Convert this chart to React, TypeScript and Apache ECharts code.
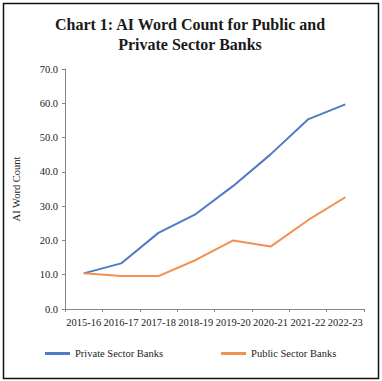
import React, { useEffect, useRef } from "react";
import * as echarts from "echarts";

const categories = ["2015-16", "2016-17", "2017-18", "2018-19", "2019-20", "2020-21", "2021-22", "2022-23"];
const privateBanks = [10.4, 13.3, 22.2, 27.7, 35.9, 45.1, 55.3, 59.7];
const publicBanks = [10.4, 9.6, 9.6, 14.3, 20.0, 18.2, 25.9, 32.6];
const yTicks = { min: 0, max: 70, interval: 10 };
const titleLines = ["Chart 1: AI Word Count for Public and", "Private Sector Banks"];
const seriesNames = ["Private Sector Banks", "Public Sector Banks"];

const SERIF = "'Liberation Serif', 'DejaVu Serif', serif";
const BLUE = "#5079C6";
const ORANGE = "#F2904F";

export default function App() {
  const ref = useRef<HTMLDivElement>(null);
  useEffect(() => {
    if (!ref.current) return;
    const chart = echarts.init(ref.current, null, { renderer: "svg" });
    chart.setOption({
      animation: false,
      backgroundColor: "#ffffff",
      graphic: [
        {
          type: "rect",
          shape: { x: 3.5, y: 3.5, width: 375, height: 375 },
          style: { fill: "none", stroke: "#111", lineWidth: 1.5 },
          silent: true,
        },
        {
          type: "text",
          x: 190,
          y: 24,
          style: {
            text: titleLines[0],
            font: `bold 16px ${SERIF}`,
            fill: "#1a1a1a",
            textAlign: "center",
            textVerticalAlign: "middle",
          },
        },
        {
          type: "text",
          x: 190,
          y: 44,
          style: {
            text: titleLines[1],
            font: `bold 16px ${SERIF}`,
            fill: "#1a1a1a",
            textAlign: "center",
            textVerticalAlign: "middle",
          },
        },
      ],
      grid: { left: 65, right: 18, top: 69, bottom: 72, containLabel: false },
      legend: {
        left: 40,
        top: 343,
        itemWidth: 25,
        itemHeight: 3,
        itemGap: 58,
        icon: "rect",
        textStyle: { fontFamily: SERIF, fontSize: 10.5, color: "#222" },
        data: seriesNames,
      },
      xAxis: {
        type: "category",
        data: categories,
        boundaryGap: true,
        axisLine: { lineStyle: { color: "#868686", width: 1 } },
        axisTick: { show: true, alignWithLabel: false, length: 3, lineStyle: { color: "#868686" } },
        axisLabel: { fontFamily: SERIF, fontSize: 10.5, color: "#222", margin: 8, interval: 0 },
      },
      yAxis: {
        type: "value",
        min: yTicks.min,
        max: yTicks.max,
        interval: yTicks.interval,
        name: "AI Word Count",
        nameLocation: "middle",
        nameGap: 43,
        nameTextStyle: { fontFamily: SERIF, fontSize: 10.5, color: "#222" },
        axisLine: { show: true, lineStyle: { color: "#868686", width: 1 } },
        axisTick: { show: true, length: 3, lineStyle: { color: "#868686" } },
        splitLine: { show: false },
        axisLabel: {
          fontFamily: SERIF,
          fontSize: 10.5,
          color: "#222",
          margin: 7,
          formatter: (v: number) => v.toFixed(1),
        },
      },
      series: [
        {
          name: seriesNames[0],
          type: "line",
          data: privateBanks,
          symbol: "none",
          lineStyle: { color: BLUE, width: 2 },
          itemStyle: { color: BLUE },
        },
        {
          name: seriesNames[1],
          type: "line",
          data: publicBanks,
          symbol: "none",
          lineStyle: { color: ORANGE, width: 2 },
          itemStyle: { color: ORANGE },
        },
      ],
    });
    return () => chart.dispose();
  }, []);
  return (
    <div
      ref={ref}
      style={{ position: "fixed", left: 0, top: 0, width: 382, height: 381, background: "#fff" }}
    />
  );
}
